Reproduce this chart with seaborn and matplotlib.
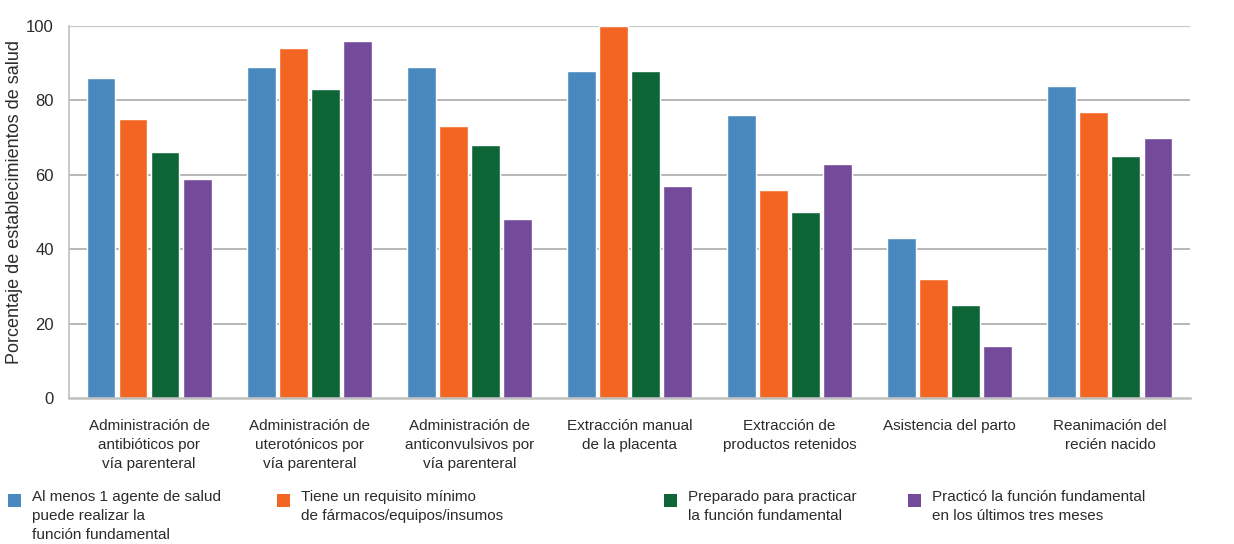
import matplotlib.pyplot as plt
import numpy as np
import pandas as pd
import seaborn as sns
from matplotlib.patches import Rectangle
from matplotlib.ticker import FixedLocator

# Categories and series values
categories = [
    'Administración de\nantibióticos por\nvía parenteral',
    'Administración de\nuterotónicos por\nvía parenteral',
    'Administración de\nanticonvulsivos por\nvía parenteral',
    'Extracción manual\nde la placenta',
    'Extracción de\nproductos retenidos',
    'Asistencia del parto',
    'Reanimación del\nrecién nacido',
]
series = [
    'Al menos 1 agente de salud\npuede realizar la\nfunción fundamental',
    'Tiene un requisito mínimo\nde fármacos/equipos/insumos',
    'Preparado para practicar\nla función fundamental',
    'Practicó la función fundamental\nen los últimos tres meses',
]
agente = [86, 89, 89, 88, 76, 43, 84]
requisito = [75, 94, 73, 100, 56, 32, 77]
preparado = [66, 83, 68, 88, 50, 25, 65]
practico = [59, 96, 48, 57, 63, 14, 70]

colors = ['#4A89BF', '#F26522', '#0E6638', '#744A9A']

df = pd.DataFrame({
    'Category': categories * 4,
    'Value': agente + requisito + preparado + practico,
    'Serie': [s for s in series for _ in categories],
})

sns.set_style('white')
plt.rcParams['font.family'] = ['Liberation Sans', 'DejaVu Sans']
text_color = '#2b2b2b'

fig = plt.figure(figsize=(12.34, 5.44), dpi=100)
ax = fig.add_axes([0.0559, 0.2684, 0.9084, 0.6838])

sns.barplot(data=df, x='Category', y='Value', hue='Serie', palette=colors,
            width=0.8, gap=0.1, saturation=1, ax=ax, legend=False)

ax.set_ylim(0, 100)
ax.set_xlim(-0.5, len(categories) - 0.5)
ax.set_yticks([0, 20, 40, 60, 80, 100])
ax.set_ylabel('Porcentaje de establecimientos de salud', fontsize=13, color=text_color)
ax.yaxis.set_label_coords(-0.041, 0.527)
ax.set_xlabel('')
ax.tick_params(axis='y', length=0, labelsize=12, labelcolor=text_color, pad=11)
ax.tick_params(axis='x', length=0, labelsize=11, labelcolor=text_color, pad=15)
for lbl in ax.get_xticklabels():
    lbl.set_linespacing(1.45)

# horizontal gridlines
for y in [20, 40, 60, 80]:
    ax.axhline(y, color='#a3a3a3', lw=1.1, zorder=0)
ax.axhline(100, color='#c8c8c8', lw=1.6, zorder=0)

for s in ['top', 'right']:
    ax.spines[s].set_visible(False)
ax.spines['left'].set_color('#c0c0c0')
ax.spines['left'].set_linewidth(1.2)
ax.spines['bottom'].set_color('#c0c0c0')
ax.spines['bottom'].set_linewidth(1.8)

# small separators between groups
ax.xaxis.set_minor_locator(FixedLocator(np.arange(0.5, len(categories), 1)))
ax.tick_params(axis='x', which='minor', direction='in', length=7, width=1.2, color='#b0b0b0')

# legend below the plot: square key next to the first line of each label
W, H = 1234, 544
key_x = [8, 277, 664, 908]
for kx, s, c in zip(key_x, series, colors):
    fig.add_artist(Rectangle((kx / W, (H - 507) / H), 13 / W, 13 / H,
                             transform=fig.transFigure, facecolor=c, edgecolor='none'))
    fig.text((kx + 24) / W, (H - 490) / H, s, fontsize=11, color=text_color,
             va='top', ha='left', linespacing=1.45)

fig.savefig('out.png', dpi=100)
plt.close()
